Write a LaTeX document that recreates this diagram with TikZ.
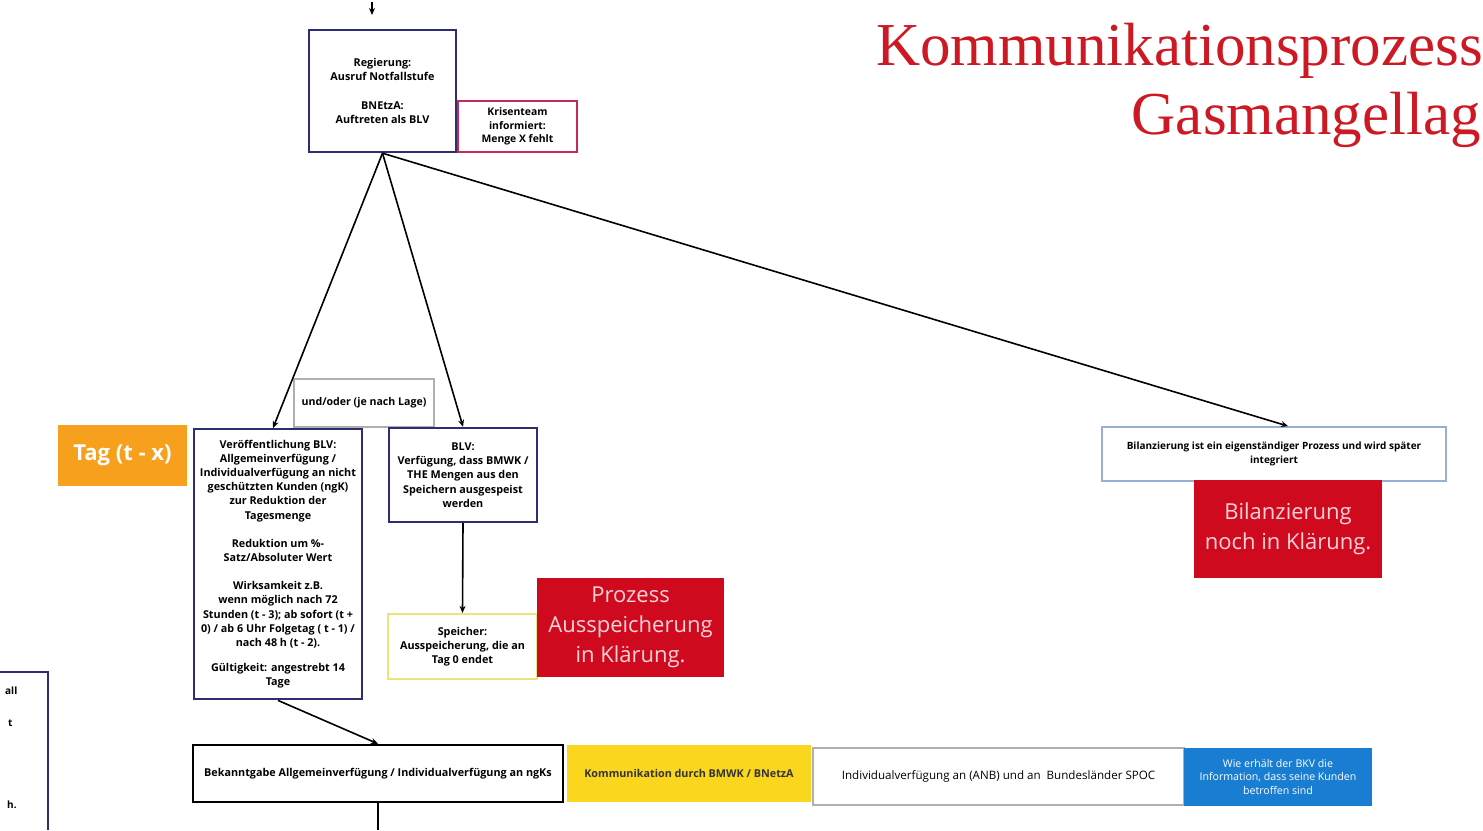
\documentclass[tikz,border=0pt]{standalone}
\usepackage{fontspec}
\setmainfont{Open Sans}
\newfontfamily\tserif{Liberation Serif}
\usetikzlibrary{arrows.meta}
\definecolor{navy}{RGB}{45,45,115}
\definecolor{krise}{RGB}{195,45,85}
\definecolor{redfill}{RGB}{208,10,30}
\definecolor{redtext}{RGB}{250,210,215}
\definecolor{orangefill}{RGB}{247,160,30}
\definecolor{yellowfill}{RGB}{250,215,30}
\definecolor{yellowline}{RGB}{235,228,120}
\definecolor{bluefill}{RGB}{25,125,210}
\definecolor{billine}{RGB}{150,175,210}
\definecolor{grayline}{RGB}{175,175,175}
\definecolor{titlered}{RGB}{205,25,35}
\tikzset{
  box/.style={draw, rectangle, inner sep=0pt, align=center, font=\bfseries\fontsize{10.8}{14.2}\selectfont},
  navybox/.style={box, draw=navy, line width=2.4pt},
  redbox/.style={rectangle, fill=redfill, inner sep=0pt, align=center, text=redtext, font=\fontsize{22}{30}\selectfont},
  arr/.style={-{Stealth[length=7pt,width=6pt]}, line width=1.6pt},
  conn/.style={line width=1.6pt},
  frag/.style={inner sep=0pt, font=\bfseries\fontsize{10}{11}\selectfont, anchor=base west}
}
\begin{document}
\begin{tikzpicture}[x=1pt,y=-1pt]
\useasboundingbox (0,0) rectangle (1483,830);
\fill[white] (0,0) rectangle (1483,830);

% title
\node[inner sep=0pt, anchor=base east, text=titlered, font=\tserif\fontsize{61}{70}\selectfont] (title1) at (1483,65) {Kommunikationsprozess};
\node[inner sep=0pt, anchor=base east, text=titlered, font=\tserif\fontsize{61}{70}\selectfont] (title2) at (1481,134) {Gasmangellag};

% top
\node[navybox, minimum width=147pt, minimum height=122pt] (reg) at (382.5,91)
  {Regierung:\\Ausruf Notfallstufe\\[14pt]BNEtzA:\\Auftreten als BLV};
\node[box, draw=krise, line width=2.2pt, minimum width=119pt, minimum height=51pt, font=\bfseries\fontsize{10.4}{13.5}\selectfont] (krise) at (517.5,126.5)
  {Krisenteam\\informiert:\\Menge X fehlt};
\coordinate (topin) at (372,2);
\coordinate (topout) at (372,15);
\draw[arr] (topin) -- (topout);

% middle
\node[box, draw=grayline, line width=1.8pt, minimum width=140pt, minimum height=48pt, font=\bfseries\fontsize{10.6}{12}\selectfont] (undoder) at (364,403)
  {und/oder (je nach Lage)};
\node[inner sep=0pt, fill=orangefill, minimum width=129pt, minimum height=61pt, text=white, font=\bfseries\fontsize{22}{24}\selectfont] (tag) at (122.5,455.5) {Tag (t - x)};
\node[navybox, minimum width=168pt, minimum height=270pt, anchor=north] (ver) at (278,428)
  {Veröffentlichung BLV:\\Allgemeinverfügung /\\Individualverfügung an nicht\\geschützten Kunden (ngK)\\zur Reduktion der\\Tagesmenge\\[14pt]Reduktion um \%-\\Satz/Absoluter Wert\\[14pt]Wirksamkeit z.B.\\wenn möglich nach 72\\Stunden (t - 3); ab sofort (t +\\0) / ab 6 Uhr Folgetag ( t - 1) /\\nach 48 h (t - 2).\\[11pt]Gültigkeit: angestrebt 14\\Tage};
\node[navybox, minimum width=148pt, minimum height=94pt] (blv) at (463,475)
  {BLV:\\Verfügung, dass BMWK /\\THE Mengen aus den\\Speichern ausgespeist\\werden};
\node[box, draw=yellowline, line width=2.2pt, minimum width=149pt, minimum height=65pt] (speicher) at (462.5,646.5)
  {Speicher:\\Ausspeicherung, die an\\Tag 0 endet};
\node[redbox, minimum width=187pt, minimum height=99pt] (prozess) at (630.5,627.5)
  {Prozess\\Ausspeicherung\\in Klärung.};
\node[box, draw=billine, line width=1.8pt, minimum width=344pt, minimum height=54pt, font=\bfseries\fontsize{10}{13.5}\selectfont] (bil) at (1274,454)
  {Bilanzierung ist ein eigenständiger Prozess und wird später\\integriert};
\node[redbox, minimum width=188pt, minimum height=98pt] (bilred) at (1288,529)
  {Bilanzierung\\noch in Klärung.};

% bottom
\node[box, draw=black, line width=2.4pt, minimum width=370pt, minimum height=57pt] (bek) at (378,773.5)
  {Bekanntgabe Allgemeinverfügung / Individualverfügung an ngKs};
\node[inner sep=0pt, fill=yellowfill, minimum width=244pt, minimum height=57pt, font=\bfseries\fontsize{10.8}{12}\selectfont, text=black!80] (komm) at (689,773.5)
  {Kommunikation durch BMWK / BNetzA};
\node[box, draw=grayline, line width=1.6pt, minimum width=371pt, minimum height=57pt, font=\fontsize{11.6}{12}\selectfont] (indiv) at (998.5,776.5)
  {Individualverfügung an (ANB) und an\ \ Bundesländer SPOC};
\node[inner sep=0pt, fill=bluefill, minimum width=188pt, minimum height=58pt, align=center, text=white, font=\fontsize{10.6}{13.5}\selectfont] (bkv) at (1278,777)
  {Wie erhält der BKV die\\Information, dass seine Kunden\\betroffen sind};

% left partial box
\coordinate (lpa) at (0,672);
\coordinate (lpb) at (48,672);
\coordinate (lpc) at (48,830);
\draw[navy, line width=2.4pt] (lpa) -- (lpb) -- (lpc);
\node[frag] (f1) at (5,694) {all};
\node[frag] (f2) at (8,726) {t};
\node[frag] (f3) at (7,808) {h.};

% connectors
\draw[arr] (reg.south) -- ([xshift=-5pt]ver.north);
\draw[arr] (reg.south) -- (blv.north);
\draw[arr] (reg.south) -- ([xshift=14pt]bil.north);
\draw[arr] (blv.south) -- (speicher.north);
\draw[arr] (ver.south) -- (bek.north);
\coordinate (bekout) at (378,830);
\draw[conn] (bek.south) -- (bekout);
\end{tikzpicture}
\end{document}
